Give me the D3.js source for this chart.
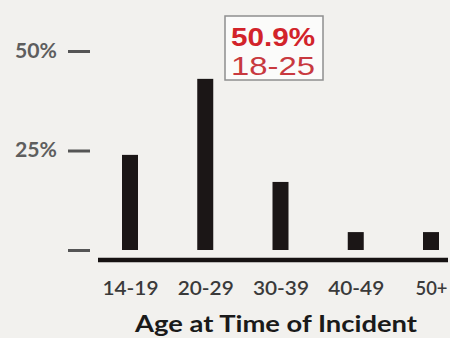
<!DOCTYPE html>
<html>
<head>
<meta charset="utf-8">
<script src="https://cdn.jsdelivr.net/npm/d3@7"></script>
<style>
  html, body { margin: 0; padding: 0; background: #f2f1ee; }
  svg { display: block; }
</style>
</head>
<body>
<script>
// Share of incidents by age group (percent)
const ageGroups = ["14-19", "20-29", "30-39", "40-49", "50+"];
const shares = [23.9, 43.0, 17.1, 4.5, 4.5];
const yTicks = [0, 25, 50];
const yTickLabels = ["", "25%", "50%"];
const calloutValue = "50.9%";
const calloutRange = "18-25";
const axisTitle = "Age at Time of Incident";

const W = 450, H = 338;
const svg = d3.select("body").append("svg").attr("width", W).attr("height", H);
svg.append("rect").attr("width", W).attr("height", H).attr("fill", "#f2f1ee");

const font = "Lato, 'Open Sans', sans-serif";
const calloutFont = "'Liberation Sans', Arial, sans-serif";

const x = d3.scalePoint().domain(ageGroups).range([130, 431]);
const y = d3.scaleLinear().domain([0, 50]).range([250, 51]);
const barW = 16;

// bars
svg.append("g").selectAll("rect")
  .data(ageGroups.map((g, i) => ({ g, v: shares[i] })))
  .join("rect")
  .attr("x", d => x(d.g) - barW / 2)
  .attr("y", d => y(d.v))
  .attr("width", barW)
  .attr("height", d => y(0) - y(d.v))
  .attr("fill", "#1b1616");

// y axis: short dashes with percent labels
const yAxis = d3.axisLeft(y)
  .tickValues(yTicks)
  .tickFormat((d, i) => yTickLabels[i])
  .tickSize(22)
  .tickPadding(11);
const gy = svg.append("g").attr("transform", "translate(90,0)").call(yAxis);
gy.select(".domain").remove();
gy.selectAll(".tick line").attr("stroke", "#555").attr("stroke-width", 3);
gy.selectAll(".tick text")
  .attr("font-family", font)
  .attr("font-size", 20)
  .attr("font-weight", 700)
  .attr("fill", "#5e5e5e")
  .attr("textLength", d => d === 0 ? null : 42)
  .attr("lengthAdjust", "spacingAndGlyphs");

// baseline
svg.append("line")
  .attr("x1", 98).attr("x2", 448)
  .attr("y1", 260).attr("y2", 260)
  .attr("stroke", "#161212").attr("stroke-width", 4.5);

// x axis labels
const xAxis = d3.axisBottom(x).tickSize(0).tickPadding(21);
const gx = svg.append("g").attr("transform", "translate(0,260)").call(xAxis);
gx.select(".domain").remove();
gx.selectAll(".tick text")
  .attr("font-family", font)
  .attr("font-size", 20)
  .attr("font-weight", 600)
  .attr("fill", "#3a3a3a")
  .attr("textLength", d => d === "50+" ? 32 : 56)
  .attr("lengthAdjust", "spacingAndGlyphs");

// axis title
svg.append("text")
  .attr("x", 276).attr("y", 332)
  .attr("text-anchor", "middle")
  .attr("font-family", font)
  .attr("font-size", 23)
  .attr("font-weight", 700)
  .attr("fill", "#1a1a1a")
  .attr("textLength", 282)
  .attr("lengthAdjust", "spacingAndGlyphs")
  .text(axisTitle);

// callout box with the peak share and its age range
const cx = 273;
svg.append("rect")
  .attr("x", 225).attr("y", 16).attr("width", 98).attr("height", 64)
  .attr("fill", "#fbfbfa").attr("stroke", "#8f8f8f").attr("stroke-width", 1.5);
const callout = svg.append("text")
  .attr("text-anchor", "middle")
  .attr("font-family", calloutFont);
callout.append("tspan")
  .attr("x", cx).attr("y", 46)
  .attr("font-size", 26).attr("font-weight", 700)
  .attr("fill", "#d2232a")
  .attr("textLength", 84).attr("lengthAdjust", "spacingAndGlyphs")
  .text(calloutValue);
callout.append("tspan")
  .attr("x", cx).attr("y", 75)
  .attr("font-size", 26)
  .attr("fill", "#c8393f")
  .attr("textLength", 84).attr("lengthAdjust", "spacingAndGlyphs")
  .text(calloutRange);
</script>
</body>
</html>
